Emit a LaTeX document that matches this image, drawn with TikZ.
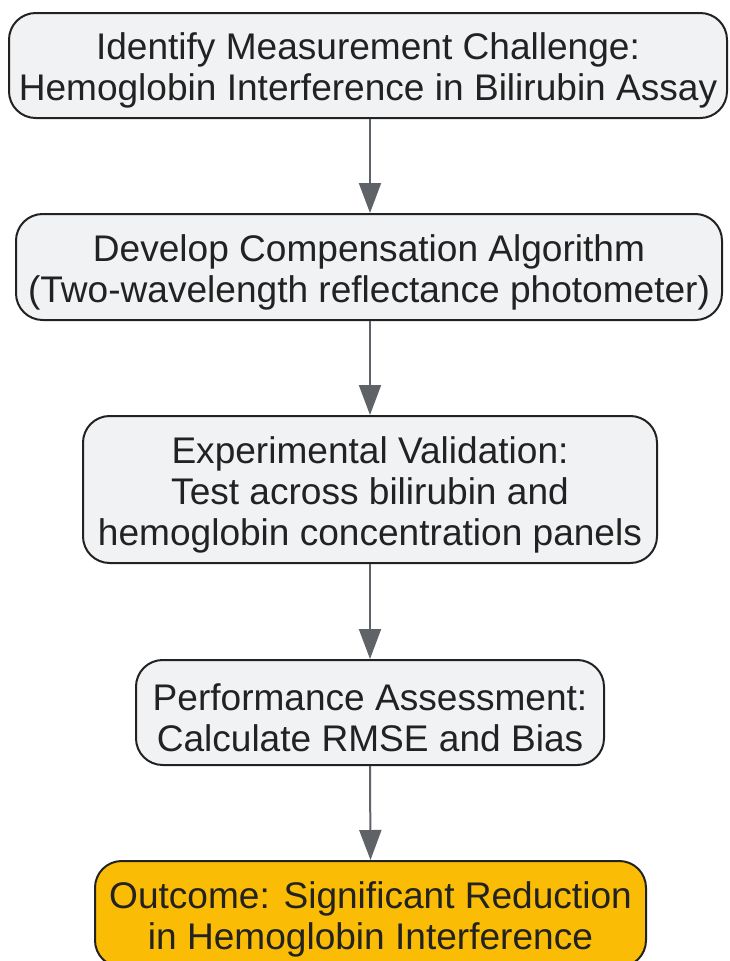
\documentclass[tikz,border=0pt]{standalone}
\usepackage{fontspec}
\setmainfont{Liberation Sans}
\usetikzlibrary{arrows.meta}
\definecolor{boxfill}{HTML}{F1F2F4}
\definecolor{boxline}{HTML}{222222}
\definecolor{arrowcol}{HTML}{5F6368}
\definecolor{outfill}{HTML}{FABC05}
\definecolor{txt}{HTML}{222222}
\tikzset{
  px/.style={x=0.75pt,y=-0.75pt},
  stepbox/.style={draw=boxline, fill=boxfill, line width=1.5pt, rounded corners=20pt,
    inner sep=0pt},
  outbox/.style={stepbox, fill=outfill},
  steptext/.style={align=center, inner sep=0pt, text=txt,
    font=\fontsize{27.8pt}{30.75pt}\selectfont},
  conn/.style={draw=arrowcol, line width=1.5pt,
    -{Triangle[length=22.5pt,width=16.5pt]}}
}
\begin{document}
\begin{tikzpicture}[px]
\useasboundingbox (0,0) rectangle (729,961);
\node[stepbox, minimum width=718*0.75pt, minimum height=105*0.75pt] (a) at (368,65.5) {};
\node[steptext] (at) at ([yshift=-3.75pt]a.center)
  {Identify Measurement Challenge:\\Hemoglobin Interference in Bilirubin Assay};
\node[stepbox, minimum width=706*0.75pt, minimum height=106*0.75pt] (b) at (369,267) {};
\node[steptext] (bt) at ([yshift=-3.75pt]b.center)
  {Develop Compensation Algorithm\\(Two-wavelength reflectance photometer)};
\node[stepbox, minimum width=574*0.75pt, minimum height=147*0.75pt] (c) at (370,489.5) {};
\node[steptext] (ct) at ([yshift=-3.75pt]c.center)
  {Experimental Validation:\\Test across bilirubin and\\hemoglobin concentration panels};
\node[stepbox, minimum width=468*0.75pt, minimum height=105*0.75pt] (d) at (370,712.5) {};
\node[steptext] (dt) at ([yshift=-3.75pt]d.center)
  {Performance Assessment:\\Calculate RMSE and Bias};
\node[outbox, minimum width=551*0.75pt, minimum height=106*0.75pt] (e) at (370.5,914) {};
\node[steptext] (et) at ([yshift=-3.75pt]e.center)
  {Outcome: Significant Reduction\\in Hemoglobin Interference};
\draw[conn] (a.south -| 370,0) -- (b.north -| 370,0);
\draw[conn] (b.south -| 370,0) -- (c.north -| 370,0);
\draw[conn] (c.south) -- (d.north);
\draw[conn] (d.south) -- (e.north);
\end{tikzpicture}
\end{document}
